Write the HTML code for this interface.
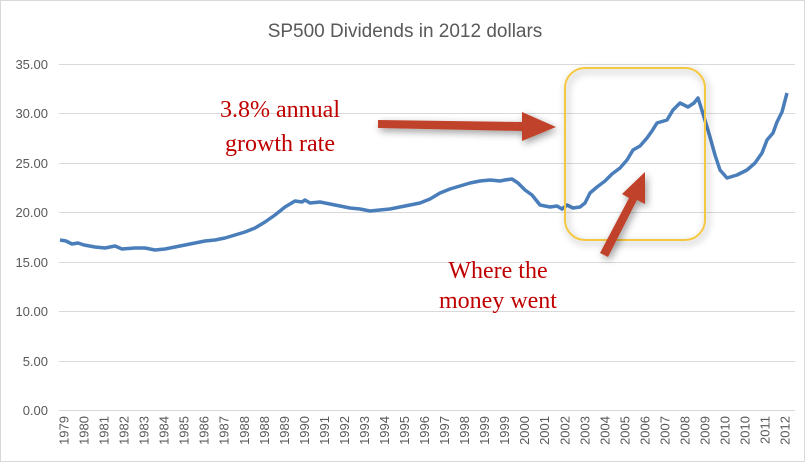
<!DOCTYPE html>
<html><head><meta charset="utf-8"><style>
body{margin:0;background:#fff;width:811px;height:463px;overflow:hidden}
svg{display:block}
</style></head><body>
<svg width="811" height="463" viewBox="0 0 811 463" font-family="Liberation Sans, sans-serif">
<defs>
<filter id="sh" x="-20%" y="-20%" width="140%" height="140%"><feGaussianBlur in="SourceAlpha" stdDeviation="4"/><feOffset dx="2" dy="3"/><feComponentTransfer><feFuncA type="linear" slope="0.4"/></feComponentTransfer><feMerge><feMergeNode/><feMergeNode in="SourceGraphic"/></feMerge></filter>
</defs>
<rect x="0.5" y="0.5" width="804" height="461" fill="#fff" stroke="#d9d9d9"/>
<text x="405" y="37" text-anchor="middle" font-size="19" fill="#595959">SP500 Dividends in 2012 dollars</text>
<g stroke="#d9d9d9" stroke-width="1">
<line x1="59" x2="795" y1="64.5" y2="64.5"/><line x1="59" x2="795" y1="113.5" y2="113.5"/><line x1="59" x2="795" y1="163.5" y2="163.5"/><line x1="59" x2="795" y1="212.5" y2="212.5"/><line x1="59" x2="795" y1="262.5" y2="262.5"/><line x1="59" x2="795" y1="311.5" y2="311.5"/><line x1="59" x2="795" y1="361.5" y2="361.5"/><line x1="59" x2="795" y1="410.5" y2="410.5"/>
</g>
<g font-size="13" fill="#595959" text-anchor="end">
<text x="48" y="69">35.00</text><text x="48" y="118">30.00</text><text x="48" y="168">25.00</text><text x="48" y="217">20.00</text><text x="48" y="267">15.00</text><text x="48" y="316">10.00</text><text x="48" y="366">5.00</text><text x="48" y="415">0.00</text>
</g>
<g font-size="13" fill="#595959" text-anchor="end">
<text transform="translate(68.5,416) rotate(-90)">1979</text>
<text transform="translate(88.5,416) rotate(-90)">1980</text>
<text transform="translate(108.6,416) rotate(-90)">1981</text>
<text transform="translate(128.6,416) rotate(-90)">1982</text>
<text transform="translate(148.6,416) rotate(-90)">1983</text>
<text transform="translate(168.6,416) rotate(-90)">1984</text>
<text transform="translate(188.7,416) rotate(-90)">1985</text>
<text transform="translate(208.7,416) rotate(-90)">1986</text>
<text transform="translate(228.7,416) rotate(-90)">1987</text>
<text transform="translate(248.8,416) rotate(-90)">1988</text>
<text transform="translate(268.8,416) rotate(-90)">1988</text>
<text transform="translate(288.8,416) rotate(-90)">1989</text>
<text transform="translate(308.9,416) rotate(-90)">1990</text>
<text transform="translate(328.9,416) rotate(-90)">1991</text>
<text transform="translate(348.9,416) rotate(-90)">1992</text>
<text transform="translate(368.9,416) rotate(-90)">1993</text>
<text transform="translate(389,416) rotate(-90)">1994</text>
<text transform="translate(409,416) rotate(-90)">1995</text>
<text transform="translate(429,416) rotate(-90)">1996</text>
<text transform="translate(449.1,416) rotate(-90)">1997</text>
<text transform="translate(469.1,416) rotate(-90)">1998</text>
<text transform="translate(489.1,416) rotate(-90)">1999</text>
<text transform="translate(509.2,416) rotate(-90)">1999</text>
<text transform="translate(529.2,416) rotate(-90)">2000</text>
<text transform="translate(549.2,416) rotate(-90)">2001</text>
<text transform="translate(569.3,416) rotate(-90)">2002</text>
<text transform="translate(589.3,416) rotate(-90)">2003</text>
<text transform="translate(609.3,416) rotate(-90)">2004</text>
<text transform="translate(629.3,416) rotate(-90)">2005</text>
<text transform="translate(649.4,416) rotate(-90)">2006</text>
<text transform="translate(669.4,416) rotate(-90)">2007</text>
<text transform="translate(689.4,416) rotate(-90)">2008</text>
<text transform="translate(709.5,416) rotate(-90)">2009</text>
<text transform="translate(729.5,416) rotate(-90)">2010</text>
<text transform="translate(749.5,416) rotate(-90)">2010</text>
<text transform="translate(769.6,416) rotate(-90)">2011</text>
<text transform="translate(789.5,416) rotate(-90)">2012</text>
</g>
<polyline fill="none" stroke="#4a7ebb" stroke-width="3.5" stroke-linejoin="round" points="60,240 66,241 72,244 78,243 84,245 95,247 105,248 115,246 122,249 135,248 145,248 155,250 165,249 175,247 185,245 195,243 205,241 215,240 225,238 235,235 245,232 255,228 265,222 275,215 285,207 295,201 302,202 305,200 310,203 320,202 330,204 340,206 350,208 360,209 370,211 380,210 390,209 400,207 410,205 420,203 430,199 440,193 450,189 460,186 470,183 480,181 490,180 500,181 505,180 512,179 518,183 525,190 532,195 540,205 550,207 557,206 562,209 567,205 573,208 580,207 585,203 590,193 597,187 605,181 612,174 620,168 627,160 633,150 640,146 647,138 652,131 657,123 667,120 673,110 680,103 688,107 694,103 698,98 704,117 710,137 715,155 720,170 727,178 737,175 747,170 755,163 762,153 767,140 773,133 777,122 782,112 787,93"/>
<rect x="565" y="68" width="140" height="172" rx="20" fill="none" stroke="#f5c842" stroke-width="2" filter="url(#sh)"/>
<g fill="#c0432b" filter="url(#sh)">
<polygon points="378,120 522,122 522,112 556,127 522,141 522,131 378,128"/>
<polygon points="600,253 629,198 622,194 645,172 645,204 637,200 608,257"/>
</g>
<g font-family="Liberation Serif, serif" font-size="24" fill="#c00000" text-anchor="middle">
<text x="280" y="117">3.8% annual</text><text x="280" y="151">growth rate</text>
<text x="498" y="278">Where the</text><text x="498" y="308">money went</text>
</g>
</svg>
</body></html>
